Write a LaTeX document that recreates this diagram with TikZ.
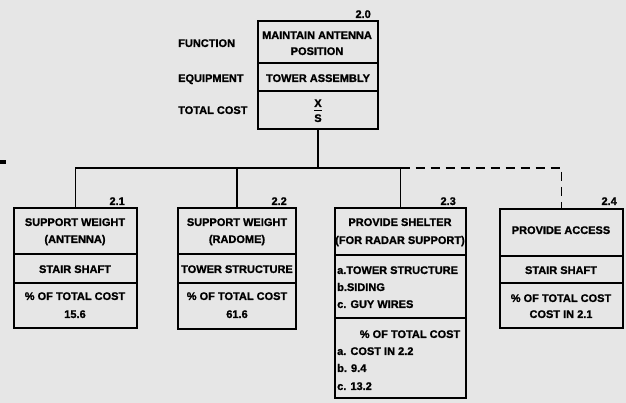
\documentclass[tikz,border=0pt]{standalone}
\usepackage{fontspec}
\setmainfont{Liberation Sans}[BoldFeatures={FakeBold=1.2}]
\definecolor{paper}{HTML}{E6E6E6}
\tikzset{
  txt/.style={inner sep=0pt, text height=7.9pt, text depth=0pt, font=\fontsize{11}{13}\selectfont\bfseries},
  boxnode/.style={draw, line width=1.7pt, inner sep=0pt},
  divider/.style={line width=1.5pt},
  conn/.style={line width=1.4pt},
  dconn/.style={line width=1.4pt, dash pattern=on 9pt off 6pt}
}
\begin{document}
\begin{tikzpicture}[x=1pt,y=-1pt]
\fill[paper] (0,0) rectangle (626,403);
\useasboundingbox (0,0) rectangle (626,403);
% boxes
\node[boxnode, minimum width=120pt, minimum height=108pt] (b20) at (318,75) {};
\node[boxnode, minimum width=123pt, minimum height=120pt] (b21) at (75.5,268) {};
\node[boxnode, minimum width=118pt, minimum height=121pt] (b22) at (237,268.5) {};
\node[boxnode, minimum width=131pt, minimum height=190pt] (b23) at (400.5,303) {};
\node[boxnode, minimum width=123pt, minimum height=119pt] (b24) at (561.5,268.5) {};
% dividers
\draw[divider] (b20.west |- 0,63) -- (b20.east |- 0,63);
\draw[divider] (b20.west |- 0,91) -- (b20.east |- 0,91);
\draw[divider] (b21.west |- 0,254) -- (b21.east |- 0,254);
\draw[divider] (b21.west |- 0,283) -- (b21.east |- 0,283);
\draw[divider] (b22.west |- 0,254) -- (b22.east |- 0,254);
\draw[divider] (b22.west |- 0,283) -- (b22.east |- 0,283);
\draw[divider] (b23.west |- 0,255) -- (b23.east |- 0,255);
\draw[divider] (b23.west |- 0,318) -- (b23.east |- 0,318);
\draw[divider] (b24.west |- 0,256) -- (b24.east |- 0,256);
\draw[divider] (b24.west |- 0,283) -- (b24.east |- 0,283);
% connectors
\coordinate (j) at (318,168);
\draw[conn] (b20.south) -- (j);
\draw[conn] (b21.north) |- (b23.north |- j) -- (b23.north);
\draw[conn] (b22.north) -- (b22.north |- j);
\draw[dconn] (b23.north |- j) -| (b24.north);
% stray mark
\fill (0,160) rectangle (6,164);
% numbers
\node[txt, anchor=east] (n20) at (371,14) {2.0};
\node[txt, anchor=east] (n21) at (125,201) {2.1};
\node[txt, anchor=east] (n22) at (287,201) {2.2};
\node[txt, anchor=east] (n23) at (456,201) {2.3};
\node[txt, anchor=east] (n24) at (617,201) {2.4};
% left labels
\node[txt, anchor=west] (lf) at (178,43) {FUNCTION};
\node[txt, anchor=west] (le) at (178,78) {EQUIPMENT};
\node[txt, anchor=west] (lt) at (178,110) {TOTAL COST};
% top box
\node[txt] (t1) at (317,35) {MAINTAIN ANTENNA};
\node[txt] (t2) at (317,51) {POSITION};
\node[txt] (t3) at (318,78) {TOWER ASSEMBLY};
\node[txt] (tx) at (318,103) {X};
\node[txt] (ts) at (318,118) {S};
\draw[line width=1.3pt] (314,110.5) -- (322,110.5);
% 2.1
\node[txt] (a1) at (75,222) {SUPPORT WEIGHT};
\node[txt] (a2) at (75,239) {(ANTENNA)};
\node[txt] (a3) at (75,269) {STAIR SHAFT};
\node[txt] (a4) at (75,296) {\% OF TOTAL COST};
\node[txt] (a5) at (75,314) {15.6};
% 2.2
\node[txt] (c1) at (237,222) {SUPPORT WEIGHT};
\node[txt] (c2) at (237,239) {(RADOME)};
\node[txt] (c3) at (237,269) {TOWER STRUCTURE};
\node[txt] (c4) at (237,296) {\% OF TOTAL COST};
\node[txt] (c5) at (237,314) {61.6};
% 2.3
\node[txt] (d1) at (400,222) {PROVIDE SHELTER};
\node[txt] (d2) at (400,240) {(FOR RADAR SUPPORT)};
\node[txt, anchor=west] (d3) at (337,270) {a.TOWER STRUCTURE};
\node[txt, anchor=west] (d4) at (337,287) {b.SIDING};
\node[txt, anchor=west] (d5) at (337,304) {c. GUY WIRES};
\node[txt] (d6) at (410,334) {\% OF TOTAL COST};
\node[txt, anchor=west] (d7) at (337,351) {a. COST IN 2.2};
\node[txt, anchor=west] (d8) at (337,368) {b. 9.4};
\node[txt, anchor=west] (d9) at (337,386) {c. 13.2};
% 2.4
\node[txt] (e1) at (561,230) {PROVIDE ACCESS};
\node[txt] (e2) at (561,270) {STAIR SHAFT};
\node[txt] (e3) at (561,298) {\% OF TOTAL COST};
\node[txt] (e4) at (561,314) {COST IN 2.1};
\end{tikzpicture}
\end{document}
